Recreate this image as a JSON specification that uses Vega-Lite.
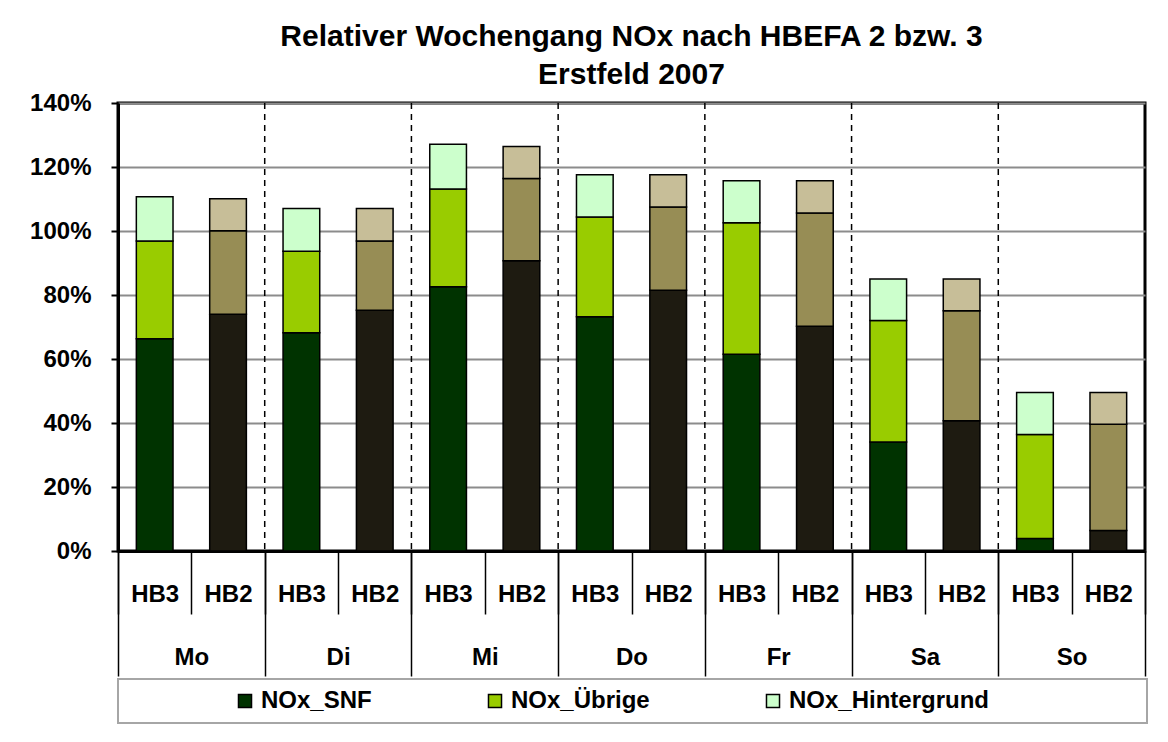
{
  "$schema": "https://vega.github.io/schema/vega-lite/v6.json",
  "width": 1027,
  "height": 448,
  "padding": {"left": 29, "top": 22, "right": 5, "bottom": 5},
  "background": "white",
  "title": {
    "text": ["Relativer Wochengang NOx nach HBEFA 2 bzw. 3", "Erstfeld 2007"],
    "fontSize": 30,
    "font": "Liberation Sans",
    "fontWeight": "bold",
    "color": "black",
    "anchor": "middle",
    "lineHeight": 38,
    "offset": 1
  },
  "data": {
    "values": [
      {"day": "Mo", "hb": "HB3", "part": "NOx_SNF", "value": 66.3},
      {"day": "Mo", "hb": "HB3", "part": "NOx_Übrige", "value": 30.6},
      {"day": "Mo", "hb": "HB3", "part": "NOx_Hintergrund", "value": 13.8},
      {"day": "Mo", "hb": "HB2", "part": "NOx_SNF", "value": 74.0},
      {"day": "Mo", "hb": "HB2", "part": "NOx_Übrige", "value": 26.1},
      {"day": "Mo", "hb": "HB2", "part": "NOx_Hintergrund", "value": 10.0},
      {"day": "Di", "hb": "HB3", "part": "NOx_SNF", "value": 68.2},
      {"day": "Di", "hb": "HB3", "part": "NOx_Übrige", "value": 25.5},
      {"day": "Di", "hb": "HB3", "part": "NOx_Hintergrund", "value": 13.3},
      {"day": "Di", "hb": "HB2", "part": "NOx_SNF", "value": 75.2},
      {"day": "Di", "hb": "HB2", "part": "NOx_Übrige", "value": 21.7},
      {"day": "Di", "hb": "HB2", "part": "NOx_Hintergrund", "value": 10.1},
      {"day": "Mi", "hb": "HB3", "part": "NOx_SNF", "value": 82.6},
      {"day": "Mi", "hb": "HB3", "part": "NOx_Übrige", "value": 30.5},
      {"day": "Mi", "hb": "HB3", "part": "NOx_Hintergrund", "value": 14.0},
      {"day": "Mi", "hb": "HB2", "part": "NOx_SNF", "value": 90.7},
      {"day": "Mi", "hb": "HB2", "part": "NOx_Übrige", "value": 25.7},
      {"day": "Mi", "hb": "HB2", "part": "NOx_Hintergrund", "value": 10.0},
      {"day": "Do", "hb": "HB3", "part": "NOx_SNF", "value": 73.2},
      {"day": "Do", "hb": "HB3", "part": "NOx_Übrige", "value": 31.2},
      {"day": "Do", "hb": "HB3", "part": "NOx_Hintergrund", "value": 13.2},
      {"day": "Do", "hb": "HB2", "part": "NOx_SNF", "value": 81.5},
      {"day": "Do", "hb": "HB2", "part": "NOx_Übrige", "value": 26.0},
      {"day": "Do", "hb": "HB2", "part": "NOx_Hintergrund", "value": 10.1},
      {"day": "Fr", "hb": "HB3", "part": "NOx_SNF", "value": 61.5},
      {"day": "Fr", "hb": "HB3", "part": "NOx_Übrige", "value": 41.1},
      {"day": "Fr", "hb": "HB3", "part": "NOx_Hintergrund", "value": 13.1},
      {"day": "Fr", "hb": "HB2", "part": "NOx_SNF", "value": 70.2},
      {"day": "Fr", "hb": "HB2", "part": "NOx_Übrige", "value": 35.4},
      {"day": "Fr", "hb": "HB2", "part": "NOx_Hintergrund", "value": 10.1},
      {"day": "Sa", "hb": "HB3", "part": "NOx_SNF", "value": 34.1},
      {"day": "Sa", "hb": "HB3", "part": "NOx_Übrige", "value": 37.9},
      {"day": "Sa", "hb": "HB3", "part": "NOx_Hintergrund", "value": 13.0},
      {"day": "Sa", "hb": "HB2", "part": "NOx_SNF", "value": 40.7},
      {"day": "Sa", "hb": "HB2", "part": "NOx_Übrige", "value": 34.4},
      {"day": "Sa", "hb": "HB2", "part": "NOx_Hintergrund", "value": 9.9},
      {"day": "So", "hb": "HB3", "part": "NOx_SNF", "value": 3.9},
      {"day": "So", "hb": "HB3", "part": "NOx_Übrige", "value": 32.5},
      {"day": "So", "hb": "HB3", "part": "NOx_Hintergrund", "value": 13.1},
      {"day": "So", "hb": "HB2", "part": "NOx_SNF", "value": 6.4},
      {"day": "So", "hb": "HB2", "part": "NOx_Übrige", "value": 33.2},
      {"day": "So", "hb": "HB2", "part": "NOx_Hintergrund", "value": 9.9}
    ]
  },
  "transform": [
    {"calculate": "datum.day + '|' + datum.hb", "as": "key"},
    {"calculate": "datum.hb == 'HB3' ? datum.part : datum.part + ' (HB2)'", "as": "series"},
    {"calculate": "indexof(['NOx_SNF','NOx_Übrige','NOx_Hintergrund'], datum.part)", "as": "ord"}
  ],
  "layer": [
    {
      "mark": {"type": "bar", "width": {"band": 0.5}, "stroke": "black", "strokeWidth": 1.5},
      "encoding": {
        "x": {
          "field": "key",
          "type": "nominal",
          "sort": ["Mo|HB3", "Mo|HB2", "Di|HB3", "Di|HB2", "Mi|HB3", "Mi|HB2", "Do|HB3", "Do|HB2", "Fr|HB3", "Fr|HB2", "Sa|HB3", "Sa|HB2", "So|HB3", "So|HB2"],
          "scale": {"paddingInner": 0, "paddingOuter": 0},
          "axis": {
            "orient": "bottom",
            "title": null,
            "labelExpr": "split(datum.label, '|')[1]",
            "labelAngle": 0,
            "labelFont": "Liberation Sans",
            "labelFontSize": 24,
            "labelFontWeight": "bold",
            "labelColor": "black",
            "labelBaseline": "middle",
            "labelPadding": -20,
            "domain": true,
            "domainColor": "black",
            "domainWidth": 3,
            "ticks": true,
            "tickBand": "extent",
            "tickSize": 63,
            "tickColor": "black",
            "tickWidth": 1.5,
            "grid": false
          }
        },
        "y": {
          "field": "value",
          "type": "quantitative",
          "stack": "zero",
          "scale": {"domain": [0, 140]},
          "axis": {
            "title": null,
            "values": [0, 20, 40, 60, 80, 100, 120, 140],
            "labelExpr": "datum.value + '%'",
            "labelFont": "Liberation Sans",
            "labelFontSize": 24,
            "labelFontWeight": "bold",
            "labelColor": "black",
            "labelPadding": 20,
            "tickSize": 7,
            "tickColor": "black",
            "tickWidth": 2,
            "domainColor": "black",
            "domainWidth": 3,
            "grid": true,
            "gridColor": "#8C8C8C",
            "gridWidth": 2
          }
        },
        "color": {
          "field": "series",
          "type": "nominal",
          "scale": {
            "domain": ["NOx_SNF", "NOx_Übrige", "NOx_Hintergrund", "NOx_SNF (HB2)", "NOx_Übrige (HB2)", "NOx_Hintergrund (HB2)"],
            "range": ["#003300", "#99CC00", "#CCFFCC", "#1E1B11", "#978D55", "#C7BE98"]
          },
          "legend": {
            "values": ["NOx_SNF", "NOx_Übrige", "NOx_Hintergrund"],
            "title": " ",
            "titleOrient": "right",
            "titlePadding": 148,
            "orient": "bottom",
            "direction": "horizontal",
            "symbolType": "square",
            "symbolSize": 170,
            "symbolStrokeColor": "black",
            "symbolStrokeWidth": 1.5,
            "symbolOffset": 105,
            "labelFont": "Liberation Sans",
            "labelFontSize": 24,
            "labelFontWeight": "bold",
            "labelColor": "black",
            "labelLimit": 400,
            "labelOffset": 4,
            "gridAlign": "each",
            "columnPadding": 6,
            "padding": 10,
            "strokeColor": "#A6A6A6",
            "offset": 2
          }
        },
        "order": {"field": "ord", "type": "quantitative"}
      }
    },
    {
      "transform": [{"filter": "datum.hb == 'HB3' && datum.part == 'NOx_SNF' && datum.day != 'Mo'"}],
      "mark": {"type": "rule", "color": "black", "strokeWidth": 1.5, "strokeDash": [6, 5]},
      "encoding": {
        "x": {
          "field": "day",
          "type": "nominal",
          "bandPosition": 0,
          "sort": null,
          "scale": {"domain": ["Mo", "Di", "Mi", "Do", "Fr", "Sa", "So"], "paddingInner": 0, "paddingOuter": 0},
          "axis": {
            "orient": "bottom",
            "title": null,
            "labelAngle": 0,
            "labelFont": "Liberation Sans",
            "labelFontSize": 24,
            "labelFontWeight": "bold",
            "labelColor": "black",
            "labelBaseline": "middle",
            "labelPadding": -19,
            "domain": false,
            "ticks": true,
            "tickBand": "extent",
            "tickSize": 125,
            "tickColor": "black",
            "tickWidth": 1.5,
            "grid": false
          }
        }
      }
    }
  ],
  "resolve": {"scale": {"x": "independent"}, "axis": {"x": "independent"}},
  "config": {
    "view": {"stroke": "black", "strokeWidth": 3},
    "font": "Liberation Sans",
    "legend": {"strokeWidth": 2}
  }
}
